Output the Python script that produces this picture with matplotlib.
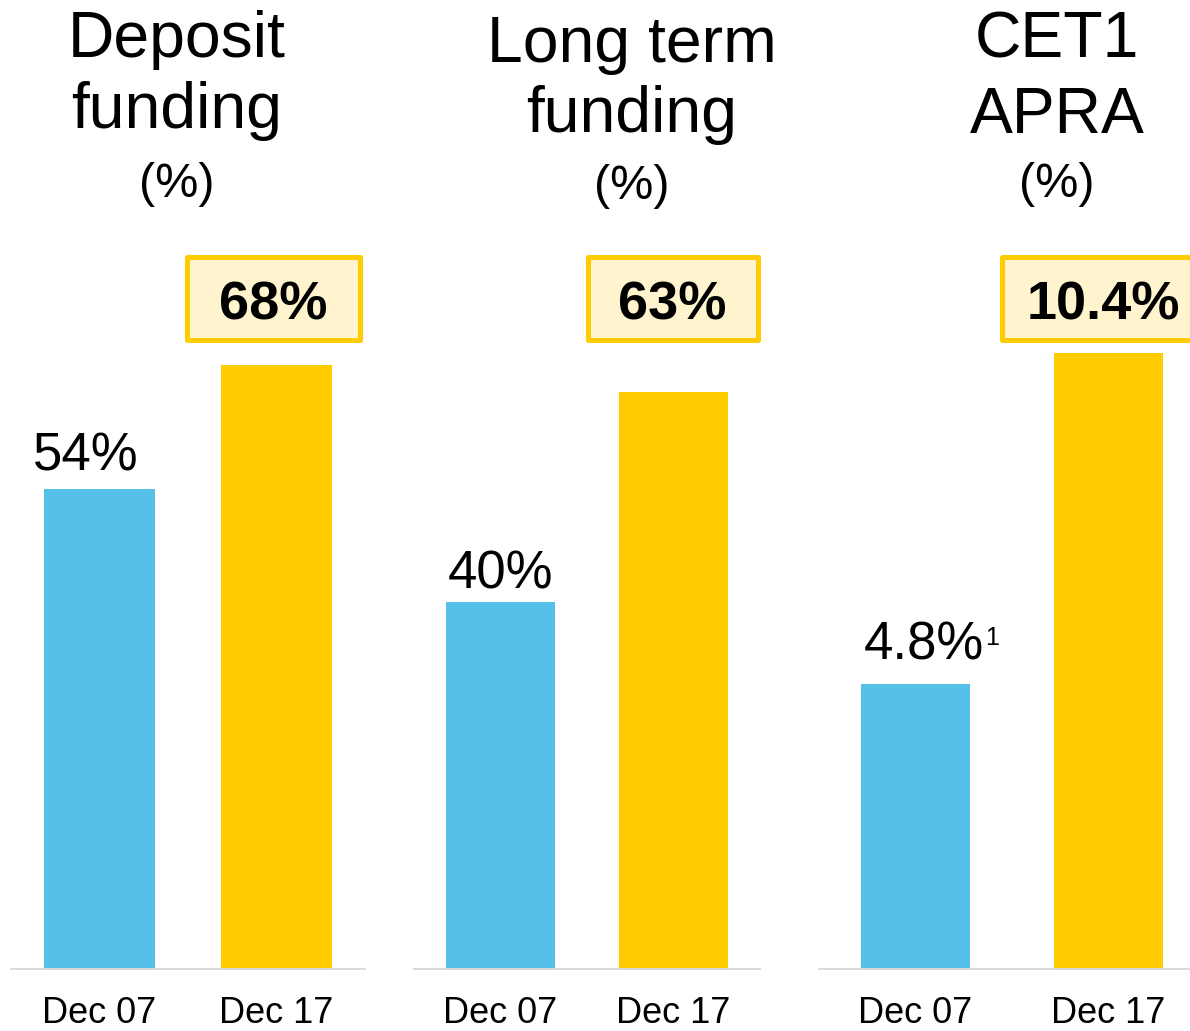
import matplotlib
matplotlib.use('agg')
import matplotlib.pyplot as plt
from matplotlib.patches import Rectangle
import matplotlib.transforms as mtrans

plt.rcParams['font.family'] = ['Liberation Sans', 'DejaVu Sans']

# data
periods = ['Dec 07', 'Dec 17']
titles = [['Deposit', 'funding', '(%)'],
          ['Long term', 'funding', '(%)'],
          ['CET1', 'APRA', '(%)']]
dec07_values = [54, 40, 4.8]
dec17_values = [68, 63, 10.4]
dec07_labels = ['54%', '40%', '4.8%']
dec17_labels = ['68%', '63%', '10.4%']
footnote_marks = ['', '', '1']

BLUE = '#56C1E8'
YELLOW = '#FFCC00'
CREAM = '#FFF4CE'
AXIS_GREY = '#D9D9D9'

W, H = 1190, 1031
fig = plt.figure(figsize=(W / 100, H / 100), dpi=100)

# layout in pixels: axes left, axes width, y top limit, bar width
base_y = 968.7
panel_left = [11, 414, 819]
panel_width = [354, 346, 386]
y_tops = [109.1, 105.8, 16.36]
bar_widths = [0.627, 0.63, 0.56]
label_offsets = [(-9.7, 13.7), (0, 10.1), (6.1, 18.0)]
box_shift = [-0.017, -0.005, -0.025]
box_width = [0.972, 0.983, 1.057]
title_x = [177, 632, 1057]
title_baselines = [[57, 128, 197], [62, 132, 199], [57, 133, 197]]

for i in range(3):
    ax = fig.add_axes([panel_left[i] / W, (H - base_y) / H,
                       panel_width[i] / W, base_y / H])
    ax.bar([0, 1], [dec07_values[i], dec17_values[i]], width=bar_widths[i],
           color=[BLUE, YELLOW], zorder=2)
    ax.set_xlim(-0.5, 1.5)
    ax.set_ylim(0, y_tops[i])
    ax.set_yticks([])
    ax.set_xticks([0, 1])
    ax.set_xticklabels(periods, fontsize=26)
    ax.tick_params(axis='x', length=0, pad=19.3)
    for side in ['top', 'left', 'right']:
        ax.spines[side].set_visible(False)
    ax.spines['bottom'].set_color(AXIS_GREY)
    ax.spines['bottom'].set_linewidth(1.4)
    ax.patch.set_alpha(0)

    # Dec 07 value label
    ax.annotate(dec07_labels[i], xy=(0, dec07_values[i]),
                xytext=label_offsets[i], textcoords='offset points',
                ha='center', va='baseline', fontsize=38, color='black',
                annotation_clip=False)
    if footnote_marks[i]:
        ax.annotate(footnote_marks[i], xy=(0, dec07_values[i]),
                    xytext=(50, 28.4), textcoords='offset points',
                    ha='left', va='baseline', fontsize=18, color='black',
                    annotation_clip=False)

    # highlighted Dec 17 value box
    trans = mtrans.blended_transform_factory(ax.transData, fig.transFigure)
    cx = 1 + box_shift[i]
    rect = Rectangle((cx - box_width[i] / 2, (H - 339.5) / H),
                     box_width[i], 83 / H, transform=trans,
                     facecolor=CREAM, edgecolor=YELLOW, linewidth=3.6,
                     joinstyle='round', clip_on=False, zorder=3)
    ax.add_patch(rect)
    ax.text(cx, (H - 320) / H, dec17_labels[i], transform=trans,
            ha='center', va='baseline', fontsize=39, fontweight='bold',
            color='black', zorder=4, clip_on=False)

    # titles
    for j, line in enumerate(titles[i]):
        fs = 35 if j == 2 else 46.3
        fig.text(title_x[i] / W, (H - title_baselines[i][j]) / H, line,
                 ha='center', va='baseline', fontsize=fs, color='black')

fig.savefig('out.png', dpi=100)
